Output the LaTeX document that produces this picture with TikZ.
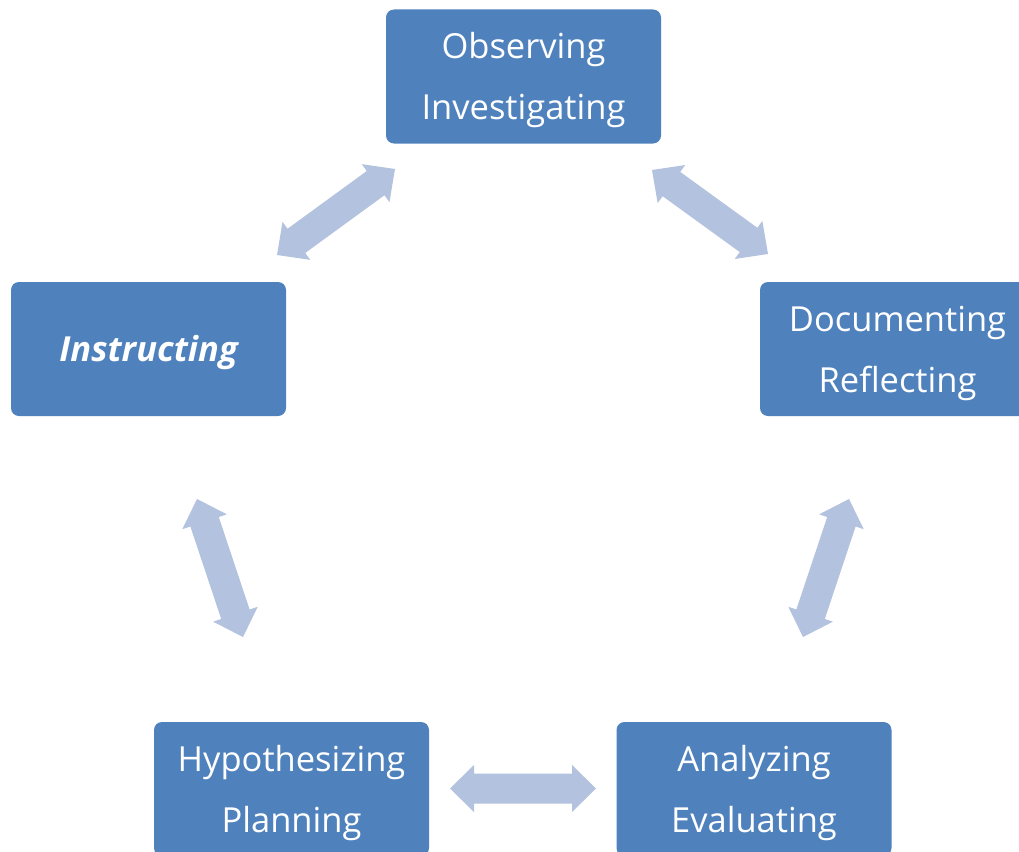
\documentclass[tikz,border=0pt]{standalone}
\usepackage{fontspec}
\setmainfont{Open Sans}
\usetikzlibrary{calc}
\definecolor{boxblue}{RGB}{79,129,189}
\definecolor{arrowblue}{RGB}{179,194,222}
\tikzset{
  stagebox/.style={fill=boxblue, draw=none, rounded corners=8pt,
    minimum width=275pt, minimum height=134pt, inner sep=0pt},
  stagetext/.style={text=white, align=center, inner sep=0pt,
    font=\fontsize{34.5}{61}\selectfont, yshift=-4pt},
  blockarrow/.style={fill=arrowblue, draw=none}
}
% #1 = prefix, #2 = start coordinate, #3 = end coordinate
\newcommand\dblblockarrow[3]{%
  \coordinate (#1ha) at ($(#2)!24pt!(#3)$);
  \coordinate (#1hb) at ($(#3)!24pt!(#2)$);
  \path[blockarrow] (#2)
    -- ($(#1ha)!23.5pt!90:(#3)$) -- ($(#1ha)!15pt!90:(#3)$)
    -- ($(#1hb)!15pt!-90:(#2)$) -- ($(#1hb)!23.5pt!-90:(#2)$)
    -- (#3)
    -- ($(#1hb)!23.5pt!90:(#2)$) -- ($(#1hb)!15pt!90:(#2)$)
    -- ($(#1ha)!15pt!-90:(#3)$) -- ($(#1ha)!23.5pt!-90:(#3)$)
    -- cycle;}
\begin{document}
\begin{tikzpicture}[x=1pt,y=-1pt]
\useasboundingbox (0,0) rectangle (1019,851);
\clip (0,0) rectangle (1019,851);
\node[stagebox] (obs) at (523.5,76.5) {};
\node[stagebox] (ins) at (148.5,349) {};
\node[stagebox] (doc) at (897.5,349) {};
\node[stagebox] (hyp) at (291.5,789) {};
\node[stagebox] (ana) at (754,789) {};
\node[stagetext] (obst) at (obs.center) {Observing\\Investigating};
\node[stagetext] (inst) at (ins.center) {\bfseries\itshape Instructing};
\node[stagetext] (doct) at (doc.center) {Documenting\\Reflecting};
\node[stagetext] (hypt) at (hyp.center) {Hypothesizing\\Planning};
\node[stagetext] (anat) at (ana.center) {Analyzing\\Evaluating};
% arrow end points
\coordinate (a1s) at (277,255); \coordinate (a1e) at (395,169);
\coordinate (a2s) at (652,170); \coordinate (a2e) at (768,254);
\coordinate (a3s) at (197,499); \coordinate (a3e) at (243,637);
\coordinate (a4s) at (849,499); \coordinate (a4e) at (803,637);
\coordinate (a5s) at (450,788.5); \coordinate (a5e) at (596,788.5);
\dblblockarrow{p1}{a1s}{a1e}
\dblblockarrow{p2}{a2s}{a2e}
\dblblockarrow{p3}{a3s}{a3e}
\dblblockarrow{p4}{a4s}{a4e}
\dblblockarrow{p5}{a5s}{a5e}
\end{tikzpicture}
\end{document}
